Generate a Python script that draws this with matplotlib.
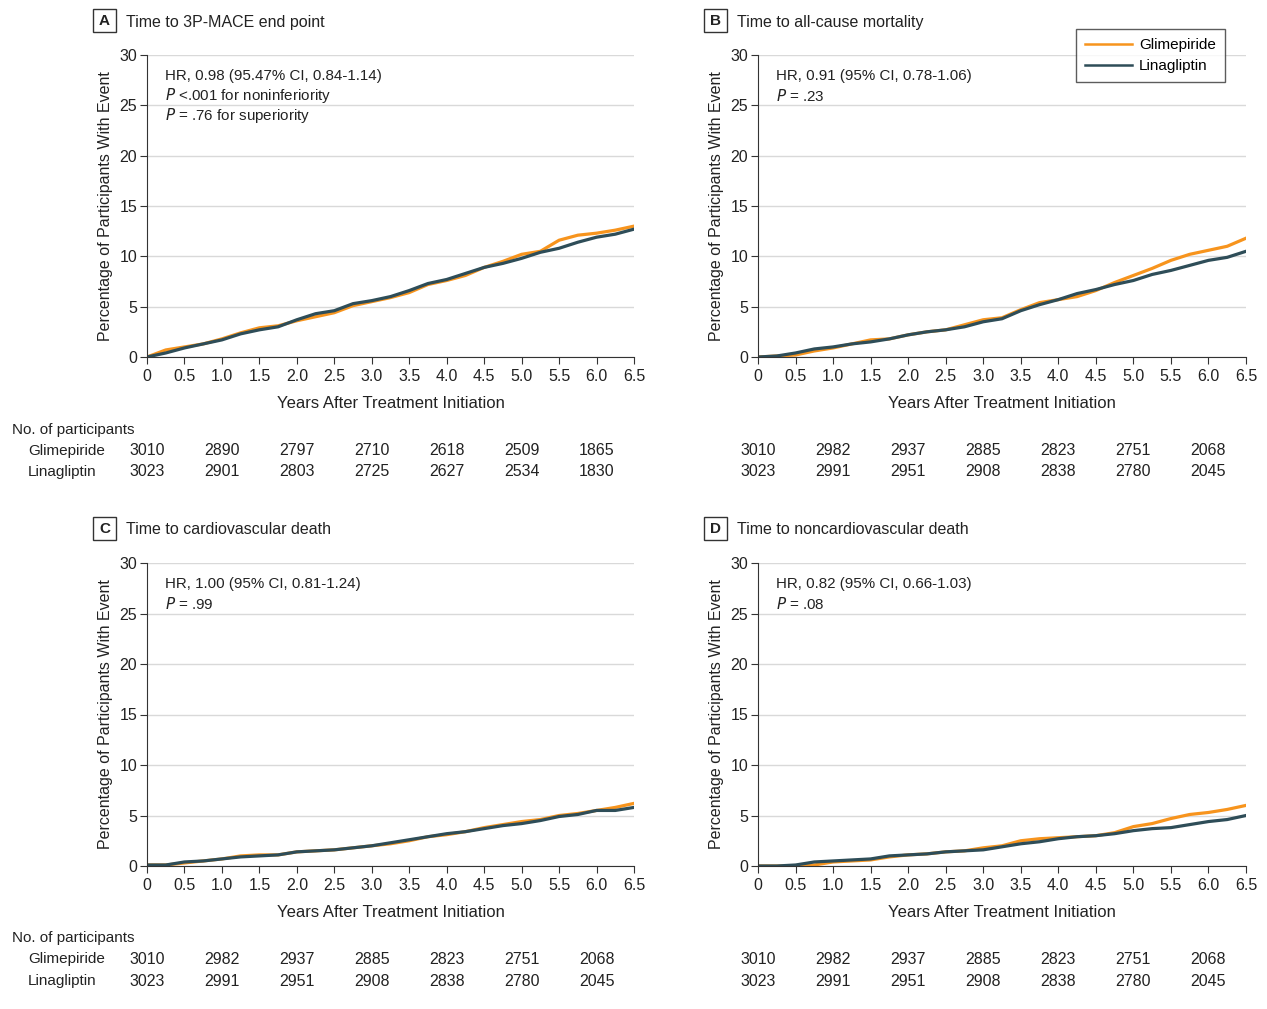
import matplotlib
matplotlib.use('Agg')
import matplotlib.pyplot as plt
from matplotlib.transforms import blended_transform_factory
from matplotlib.lines import Line2D
from matplotlib.patches import Rectangle

plt.rcParams['font.family'] = ['Liberation Sans Narrow', 'Liberation Sans', 'DejaVu Sans']

# time grid (years) and cumulative event percentages
years = [0, 0.25, 0.5, 0.75, 1.0, 1.25, 1.5, 1.75, 2.0, 2.25, 2.5, 2.75, 3.0, 3.25,
         3.5, 3.75, 4.0, 4.25, 4.5, 4.75, 5.0, 5.25, 5.5, 5.75, 6.0, 6.25, 6.5]

a_glim = [0, 0.7, 1.0, 1.3, 1.8, 2.4, 2.9, 3.1, 3.6, 4.0, 4.4, 5.1, 5.5, 5.9,
          6.4, 7.2, 7.6, 8.1, 8.9, 9.5, 10.2, 10.5, 11.6, 12.1, 12.3, 12.6, 13.0]
a_lina = [0, 0.4, 0.9, 1.3, 1.7, 2.3, 2.7, 3.0, 3.7, 4.3, 4.6, 5.3, 5.6, 6.0,
          6.6, 7.3, 7.7, 8.3, 8.9, 9.3, 9.8, 10.4, 10.8, 11.4, 11.9, 12.2, 12.7]

b_glim = [0, 0.1, 0.2, 0.6, 0.9, 1.3, 1.7, 1.8, 2.2, 2.5, 2.7, 3.2, 3.7, 3.9,
          4.7, 5.4, 5.7, 6.0, 6.6, 7.4, 8.1, 8.8, 9.6, 10.2, 10.6, 11.0, 11.8]
b_lina = [0, 0.1, 0.4, 0.8, 1.0, 1.3, 1.5, 1.8, 2.2, 2.5, 2.7, 3.0, 3.5, 3.8,
          4.6, 5.2, 5.7, 6.3, 6.7, 7.2, 7.6, 8.2, 8.6, 9.1, 9.6, 9.9, 10.5]

c_glim = [0.1, 0.1, 0.3, 0.5, 0.7, 1.0, 1.1, 1.1, 1.4, 1.5, 1.6, 1.8, 2.0, 2.2,
          2.5, 2.9, 3.1, 3.4, 3.8, 4.1, 4.4, 4.6, 5.0, 5.2, 5.5, 5.8, 6.2]
c_lina = [0.1, 0.1, 0.4, 0.5, 0.7, 0.9, 1.0, 1.1, 1.4, 1.5, 1.6, 1.8, 2.0, 2.3,
          2.6, 2.9, 3.2, 3.4, 3.7, 4.0, 4.2, 4.5, 4.9, 5.1, 5.5, 5.5, 5.8]

d_glim = [0, 0, 0, 0.1, 0.4, 0.5, 0.6, 0.9, 1.1, 1.2, 1.4, 1.5, 1.8, 2.0,
          2.5, 2.7, 2.8, 2.9, 3.0, 3.3, 3.9, 4.2, 4.7, 5.1, 5.3, 5.6, 6.0]
d_lina = [0, 0, 0.1, 0.4, 0.5, 0.6, 0.7, 1.0, 1.1, 1.2, 1.4, 1.5, 1.6, 1.9,
          2.2, 2.4, 2.7, 2.9, 3.0, 3.2, 3.5, 3.7, 3.8, 4.1, 4.4, 4.6, 5.0]

# number at risk
risk_years = [0, 1, 2, 3, 4, 5, 6]
a_risk_glim = [3010, 2890, 2797, 2710, 2618, 2509, 1865]
a_risk_lina = [3023, 2901, 2803, 2725, 2627, 2534, 1830]
bcd_risk_glim = [3010, 2982, 2937, 2885, 2823, 2751, 2068]
bcd_risk_lina = [3023, 2991, 2951, 2908, 2838, 2780, 2045]

letters = ['A', 'B', 'C', 'D']
titles = ['Time to 3P-MACE end point', 'Time to all-cause mortality',
          'Time to cardiovascular death', 'Time to noncardiovascular death']
notes = [
    ['HR, 0.98 (95.47% CI, 0.84-1.14)', r'$\it{P}$ <.001 for noninferiority', r'$\it{P}$ = .76 for superiority'],
    ['HR, 0.91 (95% CI, 0.78-1.06)', r'$\it{P}$ = .23'],
    ['HR, 1.00 (95% CI, 0.81-1.24)', r'$\it{P}$ = .99'],
    ['HR, 0.82 (95% CI, 0.66-1.03)', r'$\it{P}$ = .08'],
]
glim_series = [a_glim, b_glim, c_glim, d_glim]
lina_series = [a_lina, b_lina, c_lina, d_lina]
risk_glim = [a_risk_glim, bcd_risk_glim, bcd_risk_glim, bcd_risk_glim]
risk_lina = [a_risk_lina, bcd_risk_lina, bcd_risk_lina, bcd_risk_lina]

ORANGE = '#F7941D'
SLATE = '#2E4D58'
TXT = '#222222'
W, H = 1267, 1009

fig = plt.figure(figsize=(W / 100, H / 100), dpi=100)
plt.rcParams['mathtext.fontset'] = 'custom'
plt.rcParams['mathtext.it'] = 'Liberation Sans Narrow:italic'
plt.rcParams['mathtext.rm'] = 'Liberation Sans Narrow'

# pixel boxes of each plot area: left, right, top(30), bottom(0)
boxes = [(147, 634, 55, 357), (758, 1246, 55, 357),
         (147, 634, 563, 866), (758, 1246, 563, 866)]
risk_rows = [(451, 472), (451, 472), (959, 981), (959, 981)]

for i in range(4):
    l, r, t, b = boxes[i]
    ax = fig.add_axes([l / W, 1 - b / H, (r - l) / W, (b - t) / H])
    ax.plot(years, glim_series[i], color=ORANGE, lw=2.3, solid_joinstyle='round')
    ax.plot(years, lina_series[i], color=SLATE, lw=2.3, solid_joinstyle='round')
    ax.set_xlim(0, 6.5)
    ax.set_ylim(0, 30)
    ax.set_xticks([0, 0.5, 1, 1.5, 2, 2.5, 3, 3.5, 4, 4.5, 5, 5.5, 6, 6.5])
    ax.set_xticklabels(['0', '0.5', '1.0', '1.5', '2.0', '2.5', '3.0', '3.5', '4.0',
                        '4.5', '5.0', '5.5', '6.0', '6.5'])
    ax.set_yticks([0, 5, 10, 15, 20, 25, 30])
    ax.grid(axis='y', color='#d9d9d9', lw=1)
    ax.set_axisbelow(True)
    for s in ['top', 'right']:
        ax.spines[s].set_visible(False)
    for s in ['left', 'bottom']:
        ax.spines[s].set_color('#333333')
    ax.tick_params(labelsize=11.5, length=5, color='#333333', labelcolor=TXT, pad=2)
    ax.tick_params(axis='x', pad=3.5)
    ax.set_xlabel('Years After Treatment Initiation', fontsize=12, color=TXT, labelpad=8.5)
    ax.set_ylabel('Percentage of Participants With Event', fontsize=11.5, color=TXT, labelpad=5)

    # annotations
    for k, line in enumerate(notes[i]):
        ax.text(0.24, 27.9 - k * 1.95, line, fontsize=10.9, color=TXT, va='center')

    # panel letter and title
    fig.patches.append(Rectangle(((l - 54) / W, 1 - 32 / H - (t - 55) / H), 23 / W, 23 / H,
                                 transform=fig.transFigure, fill=False, ec='#333333', lw=1))
    fig.text((l - 42.5) / W, 1 - (21 + t - 55) / H, letters[i], fontsize=11, weight='bold',
             ha='center', va='center', color=TXT)
    fig.text((l - 21) / W, 1 - (22 + t - 55) / H, titles[i], fontsize=11.5,
             ha='left', va='center', color=TXT)

    # number at risk table
    tr = blended_transform_factory(ax.transData, fig.transFigure)
    y1, y2 = risk_rows[i]
    for k, yr in enumerate(risk_years):
        ax.text(yr, 1 - y1 / H, str(risk_glim[i][k]), transform=tr, fontsize=11.5,
                ha='center', va='center', color=TXT, clip_on=False)
        ax.text(yr, 1 - y2 / H, str(risk_lina[i][k]), transform=tr, fontsize=11.5,
                ha='center', va='center', color=TXT, clip_on=False)
    if i in (0, 2):
        fig.text(12 / W, 1 - (y1 - 21) / H, 'No. of participants', fontsize=11,
                 va='center', color=TXT)
        fig.text(28 / W, 1 - y1 / H, 'Glimepiride', fontsize=11, va='center', color=TXT)
        fig.text(28 / W, 1 - y2 / H, 'Linagliptin', fontsize=11, va='center', color=TXT)

    if i == 1:
        handles = [Line2D([], [], color=ORANGE, lw=1.8), Line2D([], [], color=SLATE, lw=1.8)]
        leg = fig.legend(handles, ['Glimepiride', 'Linagliptin'], loc='upper right',
                         bbox_to_anchor=(1225 / W, 1 - 29 / H), borderaxespad=0,
                         fontsize=11, frameon=True,
                         fancybox=False, edgecolor='#333333', handlelength=3.1,
                         handletextpad=0.45, borderpad=0.6, labelspacing=0.45)
        leg.get_frame().set_linewidth(1)

fig.savefig('out.png', dpi=100)
